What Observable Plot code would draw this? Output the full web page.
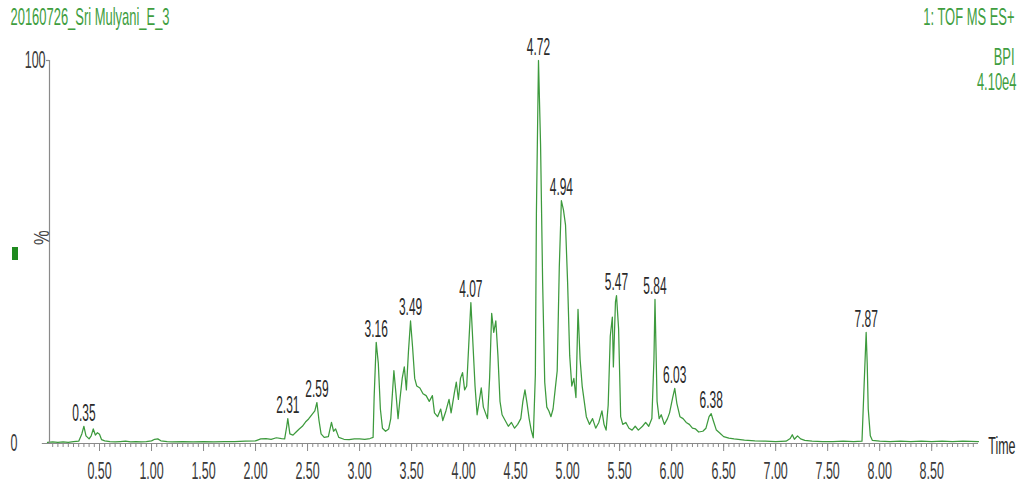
<!DOCTYPE html>
<html>
<head>
<meta charset="utf-8">
<script src="https://cdn.jsdelivr.net/npm/d3@7"></script>
<script src="https://cdn.jsdelivr.net/npm/@observablehq/plot@0.6"></script>
<style>
  html, body { margin: 0; padding: 0; background: #fff; }
  #chart { position: relative; width: 1019px; height: 499px; overflow: hidden; }
  svg { font-family: "Liberation Sans", Arial, sans-serif; }
</style>
</head>
<body>
<div id="chart"></div>
<script>
const sampleName = "20160726_Sri Mulyani_E_3";
const headerLines = ["1: TOF MS ES+", "BPI", "4.10e4"];
const xAxisTitle = "Time";
const yAxisTitle = "%";

const times = [0.00,0.05,0.10,0.15,0.20,0.25,0.30,0.33,0.35,0.37,0.40,0.42,0.44,0.46,0.48,0.50,0.52,0.55,0.60,0.65,0.70,0.75,0.80,0.85,0.90,0.95,
1.00,1.03,1.06,1.09,1.15,1.20,1.30,1.40,1.50,1.60,1.70,1.80,1.90,
2.00,2.05,2.10,2.15,2.20,2.25,2.28,2.30,2.31,2.33,2.36,2.39,2.42,2.45,2.48,2.51,2.54,2.57,2.59,2.61,2.63,2.66,2.70,2.73,2.75,2.77,2.80,2.85,2.90,2.95,
3.00,3.05,3.10,3.13,3.14,3.16,3.18,3.20,3.22,3.25,3.28,3.30,3.33,3.35,3.37,3.39,3.41,3.43,3.45,3.47,3.49,3.51,3.53,3.55,3.58,3.61,3.64,3.67,3.70,3.72,3.75,3.78,3.80,3.83,3.86,3.88,3.91,3.93,3.95,3.97,3.99,
4.01,4.03,4.05,4.07,4.09,4.11,4.13,4.15,4.17,4.19,4.21,4.23,4.25,4.27,4.29,4.31,4.33,4.35,4.37,4.40,4.43,4.46,4.49,4.52,4.55,4.57,4.59,4.61,4.63,4.65,4.67,4.69,4.70,4.72,4.74,4.76,4.78,4.80,4.82,4.84,4.86,4.88,4.90,4.92,4.94,4.96,4.98,
5.00,5.02,5.04,5.06,5.08,5.10,5.12,5.14,5.16,5.18,5.21,5.24,5.27,5.30,5.33,5.35,5.37,5.39,5.41,5.43,5.44,5.46,5.47,5.49,5.51,5.53,5.56,5.59,5.62,5.65,5.68,5.72,5.75,5.78,5.81,5.83,5.84,5.86,5.88,5.90,5.93,5.96,5.98,
6.01,6.03,6.05,6.08,6.11,6.14,6.17,6.20,6.23,6.26,6.30,6.33,6.36,6.38,6.40,6.43,6.46,6.50,6.55,6.60,6.70,6.80,6.90,
7.00,7.10,7.14,7.16,7.18,7.21,7.24,7.28,7.35,7.45,7.55,7.65,7.75,7.83,7.85,7.87,7.88,7.89,7.91,7.93,
8.00,8.10,8.20,8.30,8.40,8.50,8.60,8.70,8.80,8.95];

const intensity = [0.3,0.4,0.3,0.4,0.3,0.5,0.6,2.5,4.5,2.0,1.2,2.0,3.8,2.2,2.8,2.4,1.0,0.7,0.5,0.4,0.5,0.6,0.4,0.5,0.4,0.5,
0.7,1.1,1.2,0.7,0.5,0.4,0.5,0.4,0.5,0.4,0.5,0.5,0.6,
0.7,1.2,1.3,1.1,1.5,1.3,1.2,4.5,6.5,2.5,2.2,3.0,3.8,4.5,5.6,6.4,7.5,8.5,10.7,6.0,2.5,1.6,1.8,5.5,3.2,3.8,1.6,1.1,1.0,1.2,
1.2,1.1,1.3,1.6,12,26.4,21,9,4.0,3.2,3.8,6.5,19,13,6.5,12,17,20,14,24,32,25,17,15,14.5,13,12.5,11,12.5,8,7,9,6,8.5,11.5,8,13,16,11.5,17,18.5,
14,15,26,36.8,26,15,7.5,11,14.5,9.5,8,6.5,17,34,29,32,23,11,7.5,6,4.5,5.5,4,5,6.5,11,14,10.5,6.5,3.5,1.5,18,60,100,78,42,16,9.5,8.5,7,9,14,19,46,63.4,61,57,
42,23,15,17,12,35,22,15,11,7,5,6.5,4,5.5,8.5,5,3.5,10,28,33,20,37,38.6,30,7,5,5.5,4,3.5,4.5,3.5,4.5,5.5,4.5,6.5,22,37.6,11,6.5,7.5,5,6.5,8,
12,14.4,10.5,7,6.5,5.5,5,4,3.8,3,3.2,4,7,7.8,6,3.5,2.8,1.8,1.4,1.2,0.9,0.7,0.6,
0.5,0.6,1.3,2.3,1.1,2.0,1.2,0.8,0.6,0.5,0.5,0.6,0.5,0.6,15,29,21,9,2,0.8,
0.6,0.5,0.6,0.5,0.6,0.5,0.6,0.5,0.6,0.5];

const peakTimes = [0.35, 2.31, 2.59, 3.16, 3.49, 4.07, 4.72, 4.94, 5.47, 5.84, 6.03, 6.38, 7.87];
const majorTicks = [0.5, 1.0, 1.5, 2.0, 2.5, 3.0, 3.5, 4.0, 4.5, 5.0, 5.5, 6.0, 6.5, 7.0, 7.5, 8.0, 8.5];
const yTickValues = [0, 100];

const trace = times.map((t, i) => ({t, v: intensity[i]}));
const peaks = peakTimes.map(p => {
  const near = trace.filter(d => Math.abs(d.t - p) < 0.015);
  const top = near.length ? d3.max(near, d => d.v) : 0;
  return {t: p, v: top, label: p.toFixed(2)};
});
const minorTicks = d3.range(1, 180).map(i => i * 0.05).filter(v => v < 8.95);

const green = "#3d9a3d";
const textGreen = "#3f9e3f";
const gray = "#8a8a8a";
const dark = "#2a2a2a";
const tickText = "#3a3a3a";
const pctText = "#444444";
const FS = 24;

const plot = Plot.plot({
  width: 1019,
  height: 499,
  marginLeft: 47,
  marginRight: 41,
  marginTop: 60,
  marginBottom: 56,
  x: {domain: [0, 8.95], axis: null},
  y: {domain: [0, 100], axis: null},
  style: {background: "#fff", overflow: "visible"},
  marks: [
    Plot.line(trace, {x: "t", y: "v", stroke: green, strokeWidth: 1.25}),
    Plot.ruleX([0], {y1: 0, y2: 100, stroke: gray, strokeWidth: 1.2, dx: 2}),
    Plot.ruleY([0], {x1: -0.05, x2: 8.95, stroke: gray, strokeWidth: 1.2}),
    Plot.ruleY([100], {x1: -0.01, x2: 0.02, stroke: gray, strokeWidth: 1.2}),
    Plot.axisX({ticks: minorTicks, tickSize: 4, tickFormat: () => "", stroke: gray, label: null}),
    Plot.axisX({ticks: majorTicks, tickSize: 8, tickFormat: d3.format(".2f"), label: null,
      tickPadding: 10, fontSize: FS, fill: tickText, stroke: gray}),
    Plot.text([yTickValues[1]], {x: 0, y: d => d, text: d => String(d), dx: -2, textAnchor: "end",
      fontSize: FS, fill: tickText}),
    Plot.text([yTickValues[0]], {x: 0, y: d => d, text: d => String(d), dx: -30, textAnchor: "end",
      fontSize: FS, fill: tickText}),
    Plot.text(peaks, {x: "t", y: "v", text: "label", dy: -13, fontSize: 23, fill: dark}),
    Plot.text([xAxisTitle], {frameAnchor: "bottom-right", dx: 37, dy: 3, textAnchor: "end",
      lineAnchor: "middle", fontSize: FS, fill: dark}),
    Plot.text([yAxisTitle], {frameAnchor: "left", dx: -6, dy: -7, rotate: -90,
      fontSize: 22, fill: pctText}),
    Plot.text([sampleName], {frameAnchor: "top-left", dx: -37, dy: -53, textAnchor: "start",
      fontSize: FS, fill: textGreen}),
    Plot.text([headerLines[0]], {frameAnchor: "top-right", dx: 36, dy: -53, textAnchor: "end",
      fontSize: FS, fill: textGreen}),
    Plot.text([headerLines[1]], {frameAnchor: "top-right", dx: 36, dy: -13, textAnchor: "end",
      fontSize: FS, fill: textGreen}),
    Plot.text([headerLines[2]], {frameAnchor: "top-right", dx: 38, dy: 12, textAnchor: "end",
      fontSize: FS, fill: textGreen})
  ]
});
document.getElementById("chart").appendChild(plot);

// Narrow the lettering (the original uses a condensed face): scale each text horizontally about its anchor.
const scaleFor = {[textGreen]: 0.54, [pctText]: 0.75};
d3.select(plot).selectAll("text").each(function () {
  const fill = (this.parentNode.getAttribute("fill") || "").toLowerCase();
  const sx = scaleFor[fill] ?? 0.52;
  const el = d3.select(this);
  const t = el.attr("transform") || "";
  el.attr("transform", `${t} scale(${sx},1)`);
});

// small green legend swatch next to the "%" label
d3.select(plot).append("rect").attr("x", 12).attr("y", 247).attr("width", 6).attr("height", 13).attr("fill", "#1f8a1f");
</script>
</body>
</html>
